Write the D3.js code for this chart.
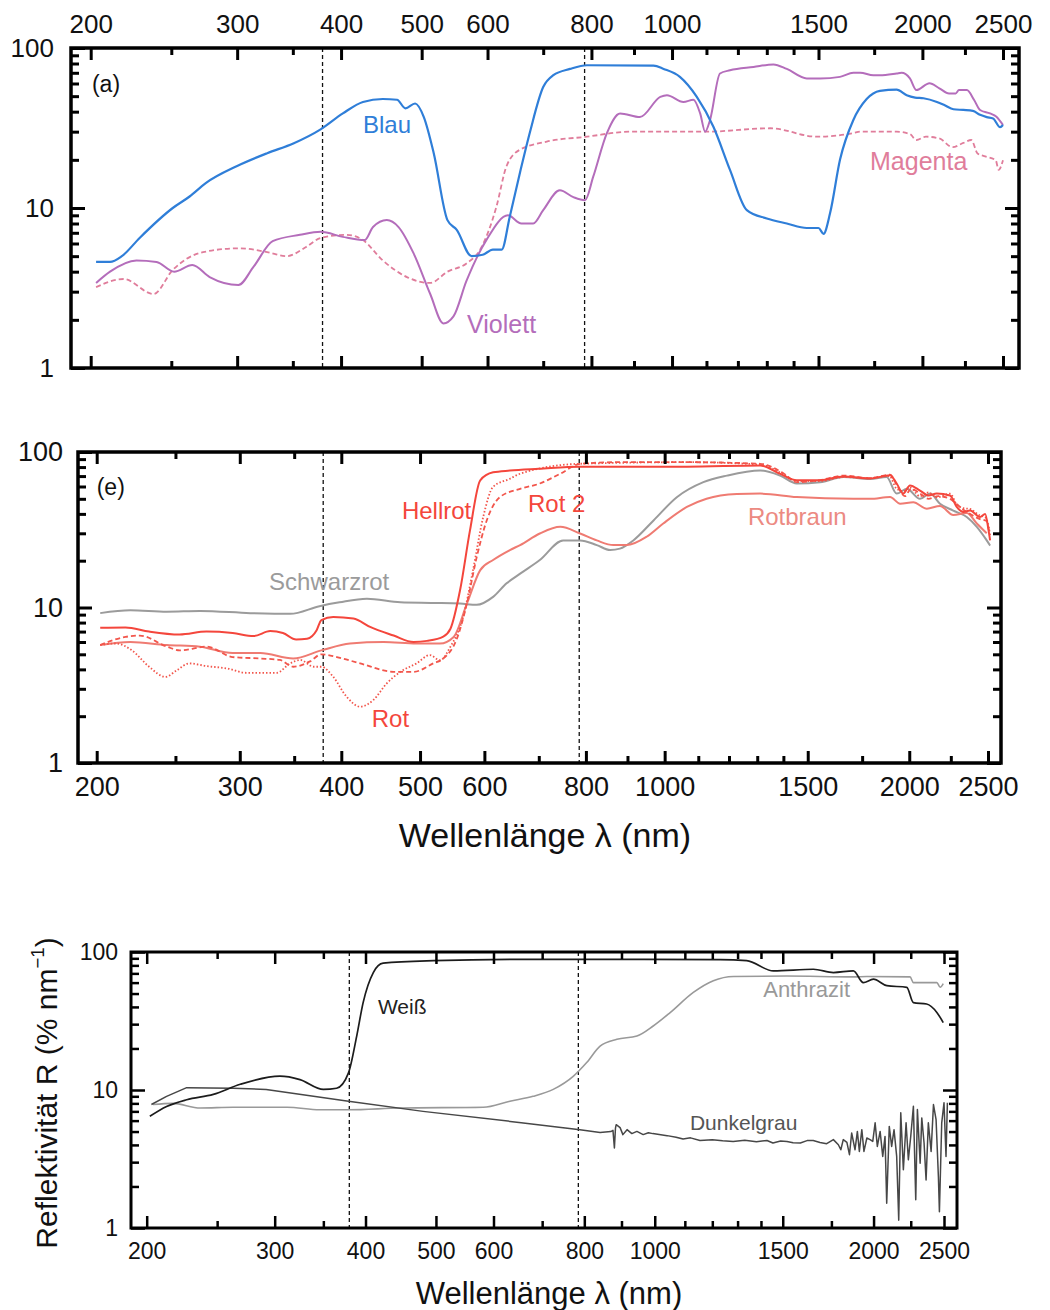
<!DOCTYPE html>
<html>
<head>
<meta charset="utf-8">
<title>Reflektivitaet</title>
<script src="https://cdnjs.cloudflare.com/ajax/libs/d3/7.8.5/d3.min.js"></script>
<style>
  body { margin: 0; background: #fff; }
  svg text { font-family: "Liberation Sans", Arial, sans-serif; }
</style>
</head>
<body>
<script>
var w = 1050, h = 1310;

// ---- tick values ----
var majorX = [200, 300, 400, 500, 600, 800, 1000, 1500, 2000, 2500];
var minorX = [250, 350, 700, 900, 1100, 1200, 1300, 1400, 1750, 2250];
var majorY = [1, 10, 100];
var minorY = [2, 3, 4, 5, 6, 7, 8, 9, 20, 30, 40, 50, 60, 70, 80, 90];
var markerLines = [380, 785];

// ---- panel (a) ----
var blau = [[203,4.6],[211,4.6],[218,5.0],[229,6.5],[251,10.0],[263,11.8],[275,14.3],[300,18.3],[326,22],[351,25.4],[378,31],[402,39],[425,46],[449,48],[467,47.5],[478,42],[491,45],[503,37],[517,22],[537,8.4],[551,7.3],[574,5.0],[592,5.1],[609,5.5],[624,5.5],[638,8.8],[657,17],[675,30],[700,57],[720,67.6],[754,74],[790,78],[950,77.6],[977,74],[1022,66],[1071,49.5],[1121,32.3],[1174,17.3],[1230,9.7],[1300,8.6],[1374,8.0],[1452,7.5],[1500,7.5],[1521,6.9],[1549,9.3],[1592,20],[1652,35.5],[1714,48],[1778,54],[1862,55],[1915,50.7],[1960,49],[2006,48.5],[2082,46],[2125,44],[2180,41.4],[2240,41],[2300,40.5],[2346,38.2],[2390,37],[2432,36.3],[2480,32],[2500,33]];
var violett = [[203,3.4],[211,4.0],[227,4.7],[240,4.6],[252,4.0],[265,4.4],[278,3.7],[301,3.3],[314,4.3],[331,6.2],[357,6.8],[378,7.1],[402,6.6],[427,6.3],[437,7.6],[454,8.4],[469,7.6],[489,5.2],[512,2.9],[531,1.9],[546,2.1],[566,3.5],[598,6.3],[635,9.0],[659,8.0],[681,8.0],[700,9.7],[733,12.9],[761,11.7],[786,11.2],[804,15.7],[835,29.4],[866,39],[915,37],[968,49.5],[986,50.7],[1032,46],[1061,47.5],[1081,39],[1096,30],[1111,35.5],[1142,69.3],[1174,72.6],[1253,76.2],[1324,79],[1374,74],[1452,64.5],[1507,64.5],[1592,66],[1652,70],[1684,70],[1746,67.6],[1778,67.6],[1862,69.3],[1888,70],[1932,64.6],[1967,54.6],[2040,60.3],[2096,56],[2153,52],[2193,52],[2213,54.6],[2262,54.6],[2308,47.3],[2346,41],[2412,39],[2455,37.2],[2500,33]];
var magenta = [[203,3.2],[219,3.6],[238,2.9],[251,4.1],[273,5.3],[302,5.6],[326,5.3],[344,5.0],[363,5.7],[378,6.5],[406,6.8],[425,6.3],[449,4.7],[480,3.7],[512,3.4],[537,4.0],[566,4.5],[588,5.5],[615,10.2],[632,18.1],[655,23],[707,26],[790,27.9],[890,30],[1101,30],[1312,31.5],[1493,27.9],[1652,29.4],[1684,30],[1862,30],[1932,29],[1967,26.6],[2020,27.9],[2096,27.2],[2175,24],[2240,25.5],[2290,26.6],[2330,21.9],[2380,21],[2450,19.9],[2470,17.3],[2500,19.9]];

// ---- panel (e) ----
var schwarzrot = [[202,9.2],[220,9.6],[244,9.4],[268,9.5],[309,9.2],[346,9.1],[376,10.2],[398,10.8],[430,11.4],[473,10.8],[519,10.7],[560,10.6],[587,10.4],[615,11.7],[639,14.3],[664,16.5],[702,20.2],[750,27],[787,27],[825,25.2],[857,23.4],[881,23.9],[915,27],[969,36.3],[1035,51.2],[1116,64],[1193,70.5],[1311,76],[1387,70.5],[1454,62.7],[1554,64],[1660,69],[1790,67],[1876,69],[1930,54],[1986,58],[2062,50],[2121,54],[2182,46.5],[2266,42],[2354,38.2],[2422,33],[2491,27],[2515,25]];
var hellrot = [[202,7.4],[217,7.45],[232,7.0],[253,6.7],[273,7.0],[294,6.85],[312,6.55],[327,7.05],[339,6.85],[352,6.23],[363,6.3],[373,7.15],[378,8.3],[391,8.7],[414,8.5],[434,7.5],[464,6.6],[491,6.0],[510,6.1],[534,6.5],[545,7.3],[560,12.9],[576,31.3],[593,65.8],[615,74],[645,76],[700,78],[787,80.5],[1065,80.5],[1311,81.8],[1390,72],[1454,65.8],[1554,65.8],[1660,69.7],[1790,67.5],[1894,70.9],[1930,62.7],[1966,54],[2004,61],[2062,56.5],[2112,52.5],[2162,54],[2245,52.5],[2288,44.3],[2332,41.1],[2376,42],[2444,38.2],[2480,40],[2504,31.3],[2515,27]];
var rot2 = [[202,5.74],[217,6.47],[226,6.6],[244,5.6],[253,5.3],[273,5.6],[294,4.8],[318,4.7],[336,4.6],[349,4.16],[366,4.5],[378,5.0],[395,4.8],[422,4.37],[464,3.86],[491,3.86],[519,4.37],[534,4.7],[555,6.3],[571,10.6],[587,21],[604,36.3],[627,51.3],[664,58],[702,62.7],[744,72.5],[787,84],[881,86],[1065,86],[1311,84],[1400,73],[1454,64],[1554,66],[1660,70.5],[1790,68],[1894,71.5],[1935,60],[1975,52],[2010,58],[2062,54],[2112,50],[2170,52],[2245,50],[2290,46],[2332,42.5],[2376,40],[2444,37],[2490,36],[2510,30]];
var rot = [[202,5.74],[211,5.87],[221,5.3],[232,4.16],[243,3.58],[251,3.95],[260,4.37],[273,4.2],[289,4.06],[306,3.8],[333,3.8],[346,4.37],[356,4.6],[370,4.16],[378,4.16],[391,3.58],[406,2.67],[422,2.3],[438,2.54],[455,3.25],[473,3.86],[495,4.37],[514,4.94],[529,4.58],[545,5.6],[565,8.7],[581,17.4],[598,38.2],[615,59.7],[645,67.3],[664,72.5],[787,84],[1065,86],[1311,83],[1400,72],[1454,65],[1554,65],[1660,69],[1790,68],[1890,70],[1930,58],[1970,56],[2004,59],[2062,52],[2112,55],[2162,51],[2245,54],[2288,46],[2332,43.5],[2376,43],[2444,39],[2480,38],[2505,33],[2515,29]];
var rotbraun = [[202,5.74],[220,6.0],[244,5.74],[268,5.6],[294,5.1],[318,5.1],[349,4.7],[378,5.3],[410,5.87],[451,6.0],[495,5.87],[529,5.87],[550,6.47],[571,10.6],[593,17.4],[615,20.2],[645,23.4],[664,25.2],[702,29.9],[744,33],[787,29.9],[825,27],[865,25.2],[898,25.2],[950,28.5],[996,34.7],[1065,44.3],[1126,50],[1227,53.6],[1311,54],[1454,51.3],[1707,50],[1790,50],[1894,51.3],[1949,46.5],[2023,47.5],[2102,43.2],[2182,45],[2266,39.3],[2354,40.5],[2422,34.7],[2491,30]];

// ---- bottom panel ----
var weiss = [[202,6.45],[213,7.6],[227,8.5],[247,9.3],[269,11],[305,12.6],[325,11.9],[350,10.1],[365,10.3],[379,13.3],[389,24.6],[397,43],[410,71],[423,83],[496,86.5],[658,88.5],[1230,88],[1338,86.5],[1456,73],[1653,75],[1761,71],[1876,73],[1936,60],[1999,63.5],[2086,57],[2222,55.5],[2269,43],[2366,42],[2444,36.5],[2494,30.8]];
var anthrazit = [[204,7.85],[217,8.0],[237,7.4],[263,7.5],[312,7.5],[346,7.2],[379,7.2],[446,7.4],[581,7.5],[632,8.3],[680,9.0],[725,10.1],[773,12.6],[806,15.8],[841,20.8],[887,23.3],[945,24.6],[995,29.1],[1050,36.4],[1130,51],[1204,62],[1283,66.5],[1518,67],[1876,66],[1958,66.5],[2245,66],[2269,60],[2444,60],[2470,55.5],[2494,59]];
var dunkelgrau = [[203,7.85],[213,9.0],[227,10.4],[263,10.3],[292,10.1],[379,8.3],[480,7.0],[655,5.8],[789,5.16],[841,4.93],[870,5.0],[876,5.1],[880,3.8],[883,5.3],[885,5.61],[896,5.34],[904,4.75],[916,5.16],[930,4.83],[945,5.01],[964,4.75],[980,4.9],[994,4.83],[1040,4.67],[1070,4.55],[1094,4.42],[1120,4.5],[1154,4.31],[1200,4.36],[1240,4.28],[1282,4.24],[1330,4.32],[1380,4.22],[1427,4.31],[1454,4.13],[1490,4.27],[1520,4.24],[1550,4.15],[1586,4.13],[1620,4.3],[1652,4.31],[1688,4.17],[1724,4.08],[1761,4.37],[1789,4.01],[1803,3.69],[1817,4.37],[1838,4.17],[1853,3.40],[1866,4.88],[1886,3.69],[1900,5.01],[1912,3.59],[1927,5.16],[1940,3.59],[1958,4.49],[1978,4.37],[1995,4.24],[2010,5.78],[2024,3.90],[2042,5.01],[2059,3.30],[2074,4.61],[2085,1.51],[2102,5.45],[2118,3.90],[2134,5.16],[2152,3.30],[2166,1.14],[2180,6.83],[2198,2.64],[2217,5.78],[2233,3.12],[2250,4.61],[2269,7.62],[2286,1.60],[2298,7.21],[2318,2.95],[2330,6.28],[2347,4.13],[2362,2.23],[2379,5.78],[2400,3.59],[2418,7.85],[2438,6.10],[2456,2.36],[2464,1.31],[2482,5.78],[2500,8.07],[2516,3.30],[2527,8.07]];

var panels = [
  {
    left: 71, right: 1019, top: 48, bottom: 368, x200: 90.7, x2500: 1003,
    fs: 26, xpad: 15, ypad: 17, frameW: 3.5, tickW: 3, labelsOnTop: true,
    tag: {text: "(a)", at: [200.7, 53]},
    series: [
      {data: magenta, color: "#e07d9b", width: 1.8, dash: "5,3"},
      {data: violett, color: "#b46dbb", width: 2},
      {data: blau, color: "#2f7ed8", width: 2.2}
    ],
    labels: [
      {text: "Blau", at: [425, 29.4], color: "#2f7ed8", fs: 24},
      {text: "Violett", at: [567, 1.66], color: "#b46dbb", fs: 25},
      {text: "Magenta", at: [1730, 17.3], color: "#e07d9b", fs: 25}
    ]
  },
  {
    left: 78, right: 1001, top: 452, bottom: 763, x200: 96.7, x2500: 988,
    fs: 27, xpad: 14, ypad: 15, frameW: 3.5, tickW: 3, labelsOnTop: false,
    tag: {text: "(e)", at: [200, 52.7]},
    series: [
      {data: schwarzrot, color: "#9b9b9b", width: 2},
      {data: rotbraun, color: "#ef7b72", width: 2},
      {data: rot, color: "#f2564c", width: 1.8, dash: "1.5,2"},
      {data: rot2, color: "#f2564c", width: 1.8, dash: "5,3"},
      {data: hellrot, color: "#f4463c", width: 2}
    ],
    labels: [
      {text: "Hellrot", at: [475, 36.9], color: "#f4463c", fs: 24},
      {text: "Rot 2", at: [679, 41], color: "#f4463c", fs: 24},
      {text: "Schwarzrot", at: [326, 12.9], color: "#9b9b9b", fs: 24},
      {text: "Rot", at: [436, 1.7], color: "#f4463c", fs: 24},
      {text: "Rotbraun", at: [1266, 33.8], color: "#ec8a82", fs: 24}
    ],
    xTitle: {text: "Wellenlänge λ (nm)", x: 545, y: 847, fs: 34}
  },
  {
    left: 131, right: 957, top: 952, bottom: 1228, x200: 146.7, x2500: 944,
    fs: 23, xpad: 15, ypad: 13, frameW: 3, tickW: 2.5, labelsOnTop: false,
    series: [
      {data: anthrazit, color: "#999999", width: 1.6},
      {data: dunkelgrau, color: "#474747", width: 1.5, linear: true},
      {data: weiss, color: "#1c1c1c", width: 1.7}
    ],
    labels: [
      {text: "Weiß", at: [416, 35.4], color: "#222", fs: 21},
      {text: "Anthrazit", at: [1410, 47.1], color: "#999", fs: 22},
      {text: "Dunkelgrau", at: [1118, 5.16], color: "#555", fs: 21}
    ],
    xTitle: {text: "Wellenlänge λ (nm)", x: 549, y: 1304, fs: 31},
    yTitle: {x: 57, y: 1093, fs: 30}
  }
];

var svg = d3.select("body").append("svg")
  .attr("width", w).attr("height", h)
  .style("display", "block");

panels.forEach(function(p) {
  var x = d3.scaleLog().domain([200, 2500]).range([p.x200, p.x2500]);
  var y = d3.scaleLog().domain([1, 100]).range([p.bottom, p.top]);
  var g = svg.append("g");

  // dashed marker lines
  g.selectAll("line.marker")
    .data(markerLines)
    .enter().append("line")
    .attr("class", "marker")
    .attr("x1", function(d) { return x(d); })
    .attr("x2", function(d) { return x(d); })
    .attr("y1", p.top)
    .attr("y2", p.bottom)
    .attr("stroke", "#111")
    .attr("stroke-width", 1.3)
    .attr("stroke-dasharray", "4,3");

  // curves
  p.series.forEach(function(s) {
    var line = d3.line()
      .x(function(d) { return x(d[0]); })
      .y(function(d) { return y(d[1]); })
      .curve(s.linear ? d3.curveLinear : d3.curveMonotoneX);
    g.append("path")
      .datum(s.data)
      .attr("d", line)
      .attr("fill", "none")
      .attr("stroke", s.color)
      .attr("stroke-width", s.width)
      .attr("stroke-linejoin", "round")
      .attr("stroke-dasharray", s.dash || null);
  });

  // ticks, all pointing inward
  function styleAxis(sel) {
    sel.select(".domain").remove();
    sel.selectAll(".tick line").attr("stroke", "#000").attr("stroke-width", p.tickW);
    sel.selectAll(".tick text").attr("font-size", p.fs).attr("fill", "#111")
      .style("font-family", "'Liberation Sans', Arial, sans-serif");
  }
  var fmt = d3.format("d");

  var xb = d3.axisBottom(x).tickValues(majorX).tickSize(-12).tickPadding(p.xpad)
    .tickFormat(p.labelsOnTop ? "" : fmt);
  g.append("g").attr("transform", "translate(0," + p.bottom + ")").call(xb).call(styleAxis);
  var xt = d3.axisTop(x).tickValues(majorX).tickSize(-12).tickPadding(p.xpad)
    .tickFormat(p.labelsOnTop ? fmt : "");
  g.append("g").attr("transform", "translate(0," + p.top + ")").call(xt).call(styleAxis);
  g.append("g").attr("transform", "translate(0," + p.bottom + ")")
    .call(d3.axisBottom(x).tickValues(minorX).tickSize(-7).tickFormat("")).call(styleAxis);
  g.append("g").attr("transform", "translate(0," + p.top + ")")
    .call(d3.axisTop(x).tickValues(minorX).tickSize(-7).tickFormat("")).call(styleAxis);

  g.append("g").attr("transform", "translate(" + p.left + ",0)")
    .call(d3.axisLeft(y).tickValues(majorY).tickSize(-14).tickPadding(p.ypad).tickFormat(fmt))
    .call(styleAxis);
  g.append("g").attr("transform", "translate(" + p.right + ",0)")
    .call(d3.axisRight(y).tickValues(majorY).tickSize(-14).tickFormat(""))
    .call(styleAxis);
  g.append("g").attr("transform", "translate(" + p.left + ",0)")
    .call(d3.axisLeft(y).tickValues(minorY).tickSize(-8).tickFormat(""))
    .call(styleAxis);
  g.append("g").attr("transform", "translate(" + p.right + ",0)")
    .call(d3.axisRight(y).tickValues(minorY).tickSize(-8).tickFormat(""))
    .call(styleAxis);

  // frame
  g.append("rect")
    .attr("x", p.left).attr("y", p.top)
    .attr("width", p.right - p.left).attr("height", p.bottom - p.top)
    .attr("fill", "none").attr("stroke", "#000").attr("stroke-width", p.frameW);

  // panel tag
  if (p.tag) {
    g.append("text")
      .attr("x", x(p.tag.at[0])).attr("y", y(p.tag.at[1]))
      .attr("font-size", 23).attr("fill", "#111")
      .text(p.tag.text);
  }

  // curve labels
  g.selectAll("text.lbl")
    .data(p.labels)
    .enter().append("text")
    .attr("class", "lbl")
    .attr("x", function(d) { return x(d.at[0]); })
    .attr("y", function(d) { return y(d.at[1]); })
    .attr("font-size", function(d) { return d.fs; })
    .attr("fill", function(d) { return d.color; })
    .text(function(d) { return d.text; });

  if (p.xTitle) {
    g.append("text")
      .attr("x", p.xTitle.x).attr("y", p.xTitle.y)
      .attr("text-anchor", "middle")
      .attr("font-size", p.xTitle.fs).attr("fill", "#111")
      .text(p.xTitle.text);
  }

  if (p.yTitle) {
    var t = g.append("text")
      .attr("transform", "translate(" + p.yTitle.x + "," + p.yTitle.y + ") rotate(-90)")
      .attr("text-anchor", "middle")
      .attr("font-size", p.yTitle.fs).attr("fill", "#111");
    t.append("tspan").text("Reflektivität R (% nm");
    t.append("tspan").attr("font-size", p.yTitle.fs * 0.62).attr("dy", -p.yTitle.fs * 0.42).text("−1");
    t.append("tspan").attr("dy", p.yTitle.fs * 0.42).text(")");
  }
});
</script>
</body>
</html>
